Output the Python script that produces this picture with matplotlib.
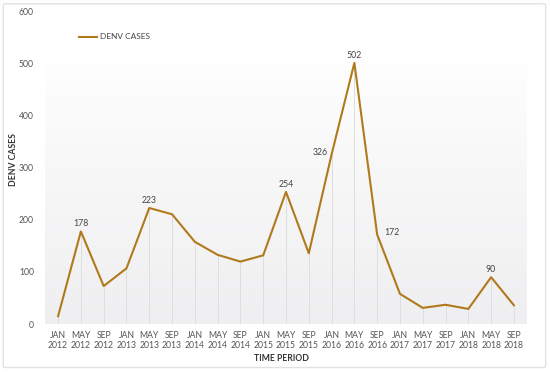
import matplotlib
matplotlib.use("Agg")
import matplotlib.pyplot as plt
import numpy as np
from matplotlib.patches import FancyBboxPatch
from matplotlib.lines import Line2D

plt.rcParams["font.family"] = ["Lato", "DejaVu Sans"]

months = ["JAN", "MAY", "SEP"]
years = [2012, 2013, 2014, 2015, 2016, 2017, 2018]
periods = [f"{m}\n{y}" for y in years for m in months]
cases = [15, 178, 73, 107, 223, 211, 158, 133, 120, 132,
         254, 136, 326, 502, 172, 58, 31, 37, 29, 90, 36]

# labelled points: index -> (dx, dy, ha)
labels = {1: (0, 6, "center"), 4: (0, 6, "center"), 10: (0, 6, "center"),
          12: (-0.15, 4, "right"), 13: (0, 6, "center"), 14: (0.3, 4, "left"),
          19: (0, 6, "center")}

line_color = "#b07a1c"

fig = plt.figure(figsize=(5.5, 3.72), dpi=100)
fig.patches.append(FancyBboxPatch((0.006, 0.012), 0.986, 0.978, boxstyle="round,pad=0,rounding_size=0.004",
                                  transform=fig.transFigure, fc="white", ec="#e2e2e2", lw=1.0, zorder=-10))
ax = fig.add_axes([0.082, 0.129, 0.876, 0.839])
ax.set_facecolor("none")

x = np.arange(len(cases))
pad = 0.57
ax.set_xlim(-pad, len(cases) - 1 + pad)
ax.set_ylim(0, 600)

# background gradient (white at top, light grey at the bottom)
grad = np.linspace(0, 1, 256).reshape(-1, 1)
cmap = matplotlib.colors.LinearSegmentedColormap.from_list("bg", ["#efeef0", "#ffffff"])
ax.imshow(grad, aspect="auto", cmap=cmap, origin="lower",
          extent=(-pad, len(cases) - 1 + pad, 0, 530), zorder=0)

ax.vlines(x, 0, cases, color="#dedede", lw=0.7, zorder=1)
ax.plot(x, cases, color=line_color, lw=1.5, zorder=3)

for i, (dx, dy, ha) in labels.items():
    va = "bottom" if ha == "center" else "center"
    ax.text(x[i] + dx, cases[i] + dy, str(cases[i]), ha=ha, va=va,
            fontsize=6.3, color="#444444", zorder=4)

ax.set_xticks(x)
ax.set_xticklabels(periods, fontsize=6.2, color="#555555", linespacing=1.15)
ax.set_yticks(np.arange(0, 601, 100))
ax.set_yticklabels([str(v) for v in range(0, 601, 100)], fontsize=6.2, color="#555555")
ax.tick_params(axis="x", length=0, pad=5)
ax.tick_params(axis="y", length=0, pad=8)
for s in ax.spines.values():
    s.set_visible(False)

ax.set_xlabel("TIME PERIOD", fontsize=6.2, color="#333333", fontweight="bold")
ax.set_ylabel("DENV CASES", fontsize=6.2, color="#333333", fontweight="bold")
ax.xaxis.set_label_coords(0.49, -0.097)
ax.yaxis.set_label_coords(-0.056, 0.526)

handle = Line2D([], [], color=line_color, lw=1.5)
ax.legend([handle], ["DENV CASES"], loc="upper left", bbox_to_anchor=(0.055, 0.955),
          frameon=False, fontsize=6, handlelength=2.2, handletextpad=0.3,
          labelcolor="#444444")

fig.savefig("out.png", dpi=100)
